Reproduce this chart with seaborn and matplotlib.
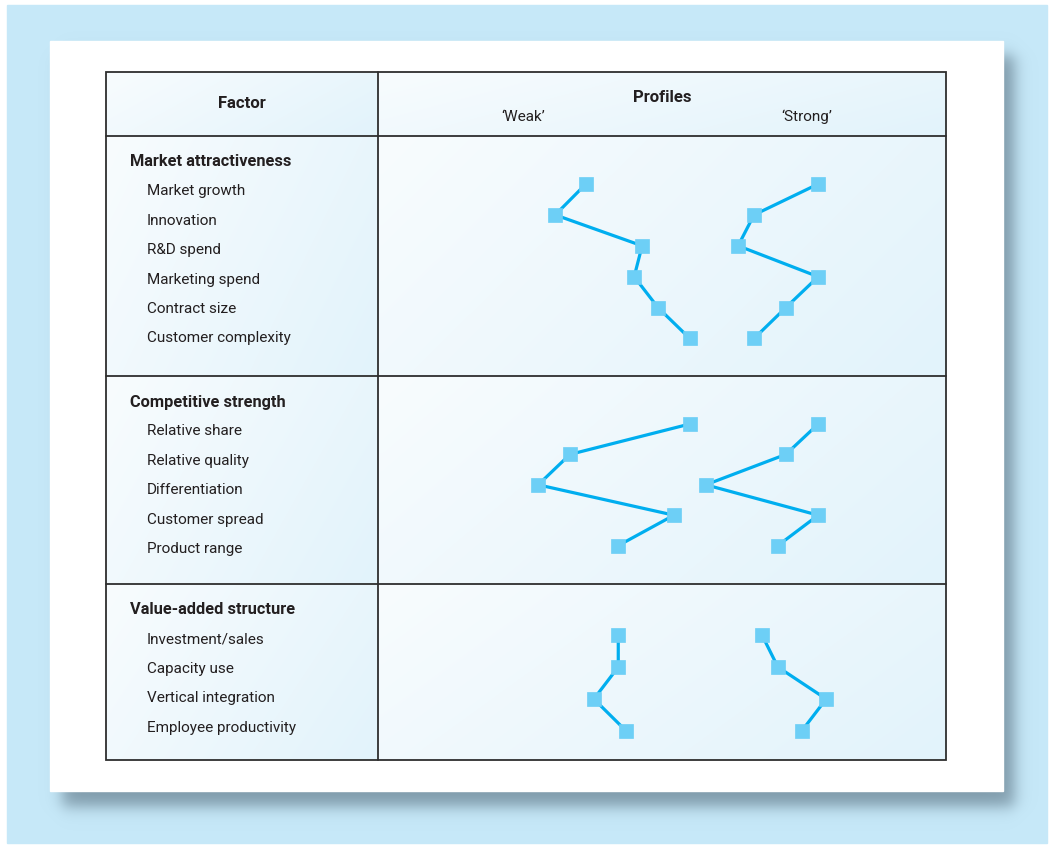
import numpy as np
import matplotlib
matplotlib.use("Agg")
import matplotlib.pyplot as plt
import seaborn as sns
from matplotlib.patches import Rectangle

sns.set_style("white")
plt.rcParams['font.family'] = ['Roboto', 'DejaVu Sans']

# ---- data: profile scores (0-100 scale across the profile column) ----
market_items = ["Market growth", "Innovation", "R&D spend", "Marketing spend",
                "Contract size", "Customer complexity"]
market_weak = [36.6, 31.2, 46.5, 45.1, 49.3, 54.9]
market_strong = [77.5, 66.2, 63.4, 77.5, 71.8, 66.2]

competitive_items = ["Relative share", "Relative quality", "Differentiation",
                     "Customer spread", "Product range"]
competitive_weak = [54.9, 33.8, 28.2, 52.1, 42.3]
competitive_strong = [77.5, 71.8, 57.7, 77.5, 70.4]

value_items = ["Investment/sales", "Capacity use", "Vertical integration",
               "Employee productivity"]
value_weak = [42.3, 42.3, 38.0, 43.7]
value_strong = [67.6, 70.4, 78.9, 74.6]

sections = [
    ("Market attractiveness", market_items, market_weak, market_strong),
    ("Competitive strength", competitive_items, competitive_weak, competitive_strong),
    ("Value-added structure", value_items, value_weak, value_strong),
]

# ---- layout (pixels) ----
W, H = 1050, 846
TL, TR, TC = 106, 946, 378          # table left, right, column divider
TT, HB = 72, 136                    # table top, header bottom
sec_bounds = [(136, 376), (376, 584), (584, 760)]
sec_header_y = [162, 402, 610]
text_step = 29.4
mark_first = [184, 424, 635]
mark_step = [30.9, 30.4, 32.0]

LINE_C = "#00AEEF"
MARK_C = "#6DCFF6"
TEXT_C = "#231F20"

fig = plt.figure(figsize=(W / 100, H / 100), dpi=100)
ax = fig.add_axes([0, 0, 1, 1])
ax.set_xlim(0, W)
ax.set_ylim(H, 0)
ax.axis("off")

# background
ax.add_patch(Rectangle((0, 0), W, H, color="white", zorder=0))
ax.add_patch(Rectangle((7, 5), 1040, 838, color="#C6E8F8", zorder=0.5))

# soft shadow behind the card
yy, xx = np.mgrid[0:H, 0:W]
s = 9.0
fx = 0.5 * (np.tanh((xx - 62) / s) - np.tanh((xx - 1014) / s))
fy = 0.5 * (np.tanh((yy - 55) / s) - np.tanh((yy - 806) / s))
alpha = fx * fy * 0.9
shadow = np.zeros((H, W, 4))
shadow[..., 0] = 0x78 / 255
shadow[..., 1] = 0x93 / 255
shadow[..., 2] = 0xA3 / 255
shadow[..., 3] = alpha
ax.imshow(shadow, extent=(0, W, H, 0), zorder=1, interpolation="bilinear")

# white card
ax.add_patch(Rectangle((50, 41), 953, 750, color="white", zorder=2))


def gradient_cell(x0, x1, y0, y1):
    n = 64
    u = np.linspace(0, 1, n)[None, :]
    v = np.linspace(0, 1, n)[:, None]
    t = np.clip(0.7 * u + 0.3 * v, 0, 1)
    c0 = np.array([248, 252, 254]) / 255
    c1 = np.array([226, 243, 251]) / 255
    img = c0[None, None, :] * (1 - t[..., None]) + c1[None, None, :] * t[..., None]
    ax.imshow(img, extent=(x0, x1, y1, y0), zorder=3, interpolation="bilinear",
              aspect="auto")


rows = [(TT, HB)] + sec_bounds
for (y0, y1) in rows:
    gradient_cell(TL, TC, y0, y1)
    gradient_cell(TC, TR, y0, y1)

# table lines
lc = "#2E2E2E"
ax.add_patch(Rectangle((TL, TT), TR - TL, 760 - TT, fill=False, ec=lc, lw=1.3, zorder=5))
ax.plot([TC, TC], [TT, 760], color=lc, lw=1.3, zorder=5)
for yb in [HB, 376, 584]:
    ax.plot([TL, TR], [yb, yb], color=lc, lw=1.3, zorder=5)

# header text
ax.text((TL + TC) / 2, 104, "Factor", ha="center", va="center", fontsize=12,
        fontweight="bold", color=TEXT_C, zorder=6)
ax.text(662, 97, "Profiles", ha="center", va="center", fontsize=12,
        fontweight="bold", color=TEXT_C, zorder=6)
ax.text(523, 117, "\u2018Weak\u2019", ha="center", va="center", fontsize=11,
        color=TEXT_C, zorder=6)
ax.text(807, 117, "\u2018Strong\u2019", ha="center", va="center", fontsize=11,
        color=TEXT_C, zorder=6)

# section labels and profile lines
for k, (title, items, weak, strong) in enumerate(sections):
    hy = sec_header_y[k]
    ax.text(130, hy, title, ha="left", va="center", fontsize=11.8,
            fontweight="bold", color=TEXT_C, zorder=6)
    for i, item in enumerate(items):
        ax.text(147, hy + text_step * (i + 1), item, ha="left", va="center",
                fontsize=11, color=TEXT_C, zorder=6)

    y0, y1 = sec_bounds[k]
    pax = fig.add_axes([TC / W, 1 - y1 / H, (TR - TC) / W, (y1 - y0) / H])
    pax.patch.set_alpha(0)
    pax.set_xlim(0, 100)
    top_val = (y0 - mark_first[k]) / mark_step[k]
    bot_val = (y1 - mark_first[k]) / mark_step[k]
    pax.set_ylim(bot_val, top_val)
    pax.axis("off")
    idx = np.arange(len(items))
    for vals in (weak, strong):
        sns.lineplot(x=vals, y=idx, sort=False, estimator=None, ax=pax,
                     color=LINE_C, linewidth=2.3, marker="s", markersize=9.5,
                     markerfacecolor=MARK_C, markeredgecolor=MARK_C,
                     markeredgewidth=0.5, zorder=7)

fig.savefig("out.png", dpi=100)
